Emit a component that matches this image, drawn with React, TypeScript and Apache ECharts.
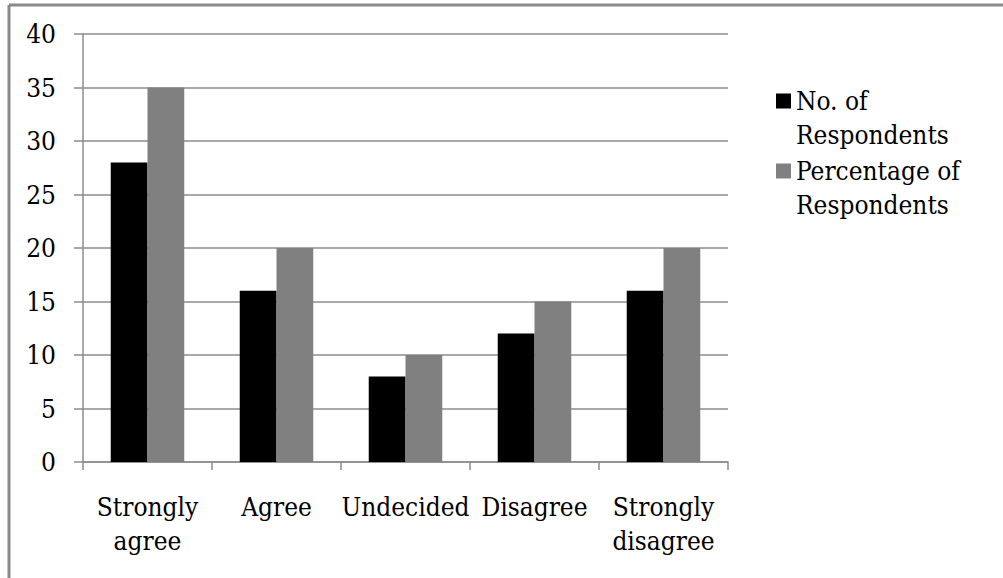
import React, { useEffect, useRef } from "react";
import * as echarts from "echarts";

const categories = ["Strongly agree", "Agree", "Undecided", "Disagree", "Strongly disagree"];
const respondents = [28, 16, 8, 12, 16];
const percentage = [35, 20, 10, 15, 20];
const seriesNames = ["No. of Respondents", "Percentage of Respondents"];

const FONT = "DejaVu Serif Condensed";
const FONT_SIZE = 26;
const GRID_GRAY = "#8c8c8c";

export default function App() {
  const ref = useRef<HTMLDivElement>(null);

  useEffect(() => {
    if (!ref.current) return;
    const chart = echarts.init(ref.current, null, { renderer: "svg" });
    chart.setOption({
      animation: false,
      backgroundColor: "#ffffff",
      textStyle: { fontFamily: FONT },
      grid: { left: 83, right: 275, top: 34, bottom: 116, containLabel: false },
      legend: {
        orient: "vertical",
        left: 776,
        top: 50,
        padding: 0,
        itemWidth: 15,
        itemHeight: 15,
        itemGap: -32,
        icon: "rect",
        selectedMode: false,
        data: seriesNames,
        // leading blank line keeps the marker level with the first text line
        formatter: (name: string) => "\n" + name.replace(" Respondents", "\nRespondents"),
        textStyle: {
          fontFamily: FONT,
          fontSize: FONT_SIZE,
          color: "#000",
          lineHeight: 34,
        },
      },
      xAxis: {
        type: "category",
        data: categories,
        axisLine: { show: true, lineStyle: { color: GRID_GRAY, width: 1.5 } },
        axisTick: { show: true, length: 8, lineStyle: { color: GRID_GRAY, width: 1.5 } },
        axisLabel: {
          fontFamily: FONT,
          fontSize: FONT_SIZE,
          color: "#000",
          margin: 28,
          lineHeight: 34,
          interval: 0,
          formatter: (v: string) => v.replace("Strongly ", "Strongly\n"),
        },
      },
      yAxis: {
        type: "value",
        min: 0,
        max: 40,
        interval: 5,
        axisLine: { show: true, lineStyle: { color: GRID_GRAY, width: 1.5 } },
        axisTick: { show: true, length: 9, lineStyle: { color: GRID_GRAY, width: 1.5 } },
        splitLine: { show: true, lineStyle: { color: GRID_GRAY, width: 1.5 } },
        axisLabel: {
          fontFamily: FONT,
          fontSize: FONT_SIZE,
          color: "#000",
          margin: 27,
          padding: [3, 0, 0, 0],
        },
      },
      series: [
        {
          name: seriesNames[0],
          type: "bar",
          data: respondents,
          barGap: "0%",
          barCategoryGap: "43%",
          itemStyle: { color: "#000000" },
        },
        {
          name: seriesNames[1],
          type: "bar",
          data: percentage,
          barGap: "0%",
          barCategoryGap: "43%",
          itemStyle: { color: "#808080" },
        },
      ],
      graphic: [
        {
          type: "line",
          shape: { x1: 9, y1: 5, x2: 1003, y2: 5 },
          style: { stroke: "#8a8a8a", lineWidth: 3 },
        },
        {
          type: "line",
          shape: { x1: 9, y1: 5, x2: 9, y2: 578 },
          style: { stroke: "#8a8a8a", lineWidth: 3 },
        },
      ],
    });
    return () => chart.dispose();
  }, []);

  return (
    <div
      ref={ref}
      style={{ position: "absolute", left: 0, top: 0, width: 1003, height: 578 }}
    />
  );
}
